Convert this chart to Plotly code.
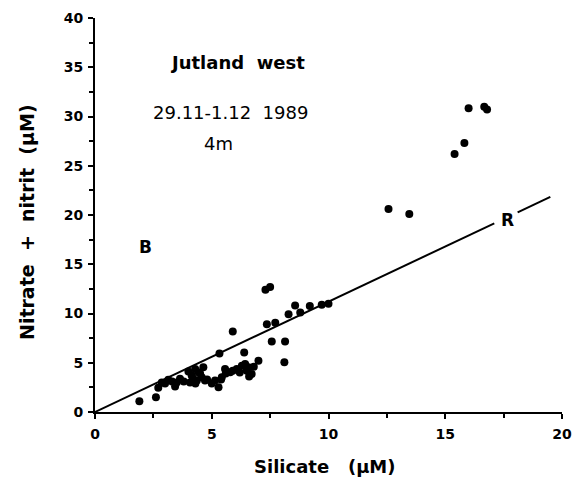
import plotly.graph_objects as go

# Silicate (x) and Nitrate+nitrit (y), µM
silicate = [1.9, 2.61, 2.71, 2.86, 3.14, 3.5, 3.64, 3.43, 3.0, 3.3, 3.8,
            4.07, 4.14, 4.29, 4.43, 4.57, 4.71, 4.36, 4.64, 4.2, 4.5, 4.8, 4.0, 4.3,
            5.33, 5.29, 5.14, 5.43, 5.57, 5.79, 6.07, 6.29, 6.43, 6.57, 6.71,
            5.0, 5.4, 5.6, 5.9, 6.2, 6.5, 6.8, 6.6,
            6.39, 7.0, 7.57, 8.14, 8.11, 5.9,
            7.3, 7.5, 7.36, 7.72, 8.29, 8.57, 8.79, 9.2, 9.71, 10.0,
            12.57, 13.46, 15.4, 15.82, 16.0, 16.67, 16.79]
nitrate = [1.1, 1.5, 2.46, 3.0, 3.27, 3.0, 3.37, 2.6, 2.9, 3.1, 3.1,
           3.0, 3.7, 4.37, 4.03, 3.53, 3.2, 3.2, 4.54, 3.4, 3.9, 3.3, 4.1, 2.9,
           5.95, 2.52, 3.2, 3.53, 4.37, 4.03, 4.37, 4.7, 4.88, 4.54, 3.87,
           2.9, 3.3, 3.9, 4.2, 4.0, 4.2, 4.6, 3.6,
           6.05, 5.2, 7.16, 7.16, 5.04, 8.17,
           12.4, 12.7, 8.9, 9.07, 9.92, 10.8, 10.1, 10.75, 10.9, 11.0,
           20.6, 20.1, 26.2, 27.3, 30.85, 31.0, 30.7]

# Reference line R: y = slope * x, drawn in two pieces around the label
r_slope = 1.12
r_seg1 = [0.0, 17.1]
r_seg2 = [18.1, 19.5]

x_ticks = [0, 5, 10, 15, 20]
y_ticks = [0, 5, 10, 15, 20, 25, 30, 35, 40]

font = "DejaVu Sans, Liberation Sans, Arial, sans-serif"
OFF = 8  # default page body margin

W, H = 584, 484
pl, pr, pt, pb = 95 - OFF, 562 - OFF, 18 - OFF, 412 - OFF

fig = go.Figure()
for seg in (r_seg1, r_seg2):
    fig.add_trace(go.Scatter(x=seg, y=[r_slope * v for v in seg], mode="lines",
                             line=dict(color="black", width=2), hoverinfo="skip"))
fig.add_trace(go.Scatter(x=silicate, y=nitrate, mode="markers",
                         marker=dict(color="black", size=8, symbol="circle")))

fig.update_layout(
    width=W, height=H, showlegend=False,
    paper_bgcolor="white", plot_bgcolor="white",
    margin=dict(l=pl, r=W - pr, t=pt, b=H - pb, autoexpand=False),
    font=dict(family=font, color="black"),
)
axis_common = dict(showgrid=False, zeroline=False, showline=True, linecolor="black", linewidth=2,
                   ticks="outside", ticklen=5, tickwidth=2, tickcolor="black",
                   ticklabeloverflow="allow",
                   minor=dict(dtick=2.5, ticks="outside", ticklen=4, tickwidth=1.5, tickcolor="black"),
                   tickfont=dict(size=14, family=font, color="black", weight="bold"))
fig.update_xaxes(range=[0, 20], tickvals=x_ticks, ticklabelstandoff=3, **axis_common)
fig.update_yaxes(range=[0, 40], tickvals=y_ticks, ticklabelstandoff=2, **axis_common)

ann = [
    dict(x=237, y=62, text="<b>Jutland  west</b>", size=18, angle=0),
    dict(x=230, y=112, text="29.11-1.12  1989", size=18, angle=0),
    dict(x=218, y=143, text="4m", size=18, angle=0),
    dict(x=145, y=247, text="<b>B</b>", size=17, angle=0),
    dict(x=507, y=220, text="<b>R</b>", size=17, angle=0),
    dict(x=325, y=466, text="<b>Silicate   (μM)</b>", size=18, angle=0),
    dict(x=27, y=222, text="<b>Nitrate  +  nitrit  (μM)</b>", size=19, angle=-90),
]
for a in ann:
    px, py = a["x"] - OFF, a["y"] - OFF
    fig.add_annotation(x=(px - pl) / (pr - pl), y=(pb - py) / (pb - pt),
                       xref="paper", yref="paper", xanchor="center", yanchor="middle",
                       showarrow=False, text=a["text"], textangle=a["angle"],
                       font=dict(size=a["size"], family=font, color="black"))

fig.write_html("out.html")
